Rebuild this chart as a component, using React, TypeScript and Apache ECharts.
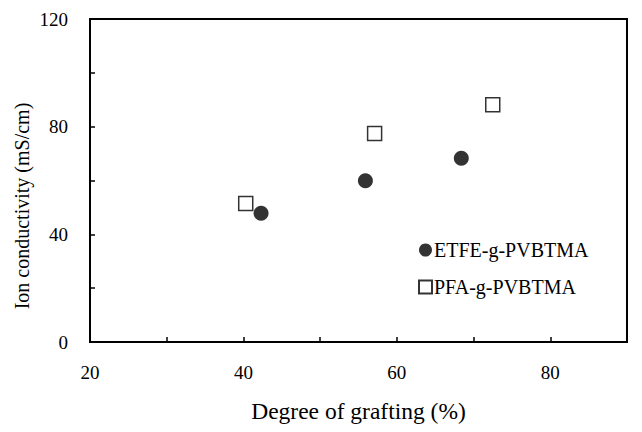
import React, { useEffect, useRef } from "react";
import * as echarts from "echarts";

const etfeX = [42.3, 55.9, 68.4];
const etfeY = [47.8, 59.9, 68.3];
const pfaX = [40.3, 57.1, 72.5];
const pfaY = [51.5, 77.5, 88.1];
const seriesNames = ["ETFE-g-PVBTMA", "PFA-g-PVBTMA"];
const xTitle = "Degree of grafting (%)";
const yTitle = "Ion conductivity (mS/cm)";

const FONT = "Liberation Serif";

export default function App() {
  const ref = useRef<HTMLDivElement>(null);
  useEffect(() => {
    document.body.style.margin = "0";
    const chart = echarts.init(ref.current!, null, { renderer: "svg" });
    chart.setOption({
      animation: false,
      backgroundColor: "#fff",
      textStyle: { fontFamily: FONT, color: "#000" },
      grid: {
        left: 90,
        top: 19,
        right: 15,
        bottom: 90,
        show: true,
        borderColor: "#000",
        borderWidth: 2,
        backgroundColor: "transparent",
      },
      legend: {
        orient: "vertical",
        left: 413,
        top: 235,
        itemWidth: 13,
        itemHeight: 13,
        itemGap: 17,
        selectedMode: false,
        textStyle: { fontFamily: FONT, fontSize: 20, color: "#000", padding: [0, 0, 0, -3] },
        data: [
          { name: seriesNames[0], icon: "circle" },
          { name: seriesNames[1], icon: "rect" },
        ],
      },
      graphic: [
        {
          type: "text",
          x: 22,
          y: 206,
          rotation: Math.PI / 2,
          style: {
            text: yTitle,
            fontFamily: FONT,
            fontSize: 20,
            fill: "#000",
            align: "center",
            verticalAlign: "middle",
          },
        },
      ],
      xAxis: {
        type: "value",
        min: 20,
        max: 90,
        interval: 10,
        name: xTitle,
        nameLocation: "middle",
        nameGap: 57,
        nameTextStyle: { fontFamily: FONT, fontSize: 23.5, color: "#000" },
        axisLine: { lineStyle: { color: "#000", width: 2 } },
        axisTick: { show: true, inside: true, length: 5, lineStyle: { color: "#000", width: 1.5 } },
        splitLine: { show: false },
        axisLabel: {
          margin: 21,
          fontFamily: FONT,
          fontSize: 19,
          color: "#000",
          formatter: (v: number) => (v % 20 === 0 ? String(v) : ""),
        },
      },
      yAxis: {
        type: "value",
        min: 0,
        max: 120,
        interval: 20,
        axisLine: { show: true, lineStyle: { color: "#000", width: 2 } },
        axisTick: { show: true, inside: true, length: 5, lineStyle: { color: "#000", width: 1.5 } },
        splitLine: { show: false },
        axisLabel: {
          margin: 22,
          fontFamily: FONT,
          fontSize: 19,
          color: "#000",
          formatter: (v: number) => (v % 40 === 0 ? String(v) : ""),
        },
      },
      series: [
        {
          name: seriesNames[0],
          type: "scatter",
          symbol: "circle",
          symbolSize: 15,
          itemStyle: { color: "#000" },
          data: etfeX.map((x, i) => [x, etfeY[i]]),
        },
        {
          name: seriesNames[1],
          type: "scatter",
          symbol: "rect",
          symbolSize: 14,
          itemStyle: { color: "#fff", borderColor: "#000", borderWidth: 1.5 },
          data: pfaX.map((x, i) => [x, pfaY[i]]),
        },
      ],
    });
    return () => chart.dispose();
  }, []);
  return <div ref={ref} style={{ width: 642, height: 432 }} />;
}
